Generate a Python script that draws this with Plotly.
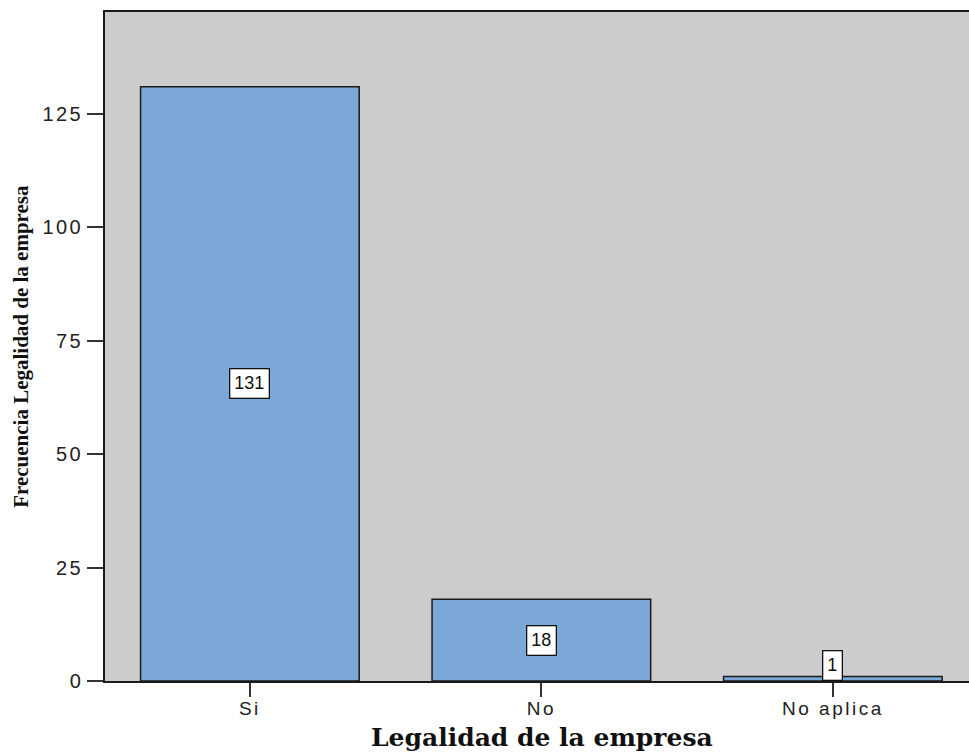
import plotly.graph_objects as go

# Frequencies of company legality status
categories = ["Si", "No", "No aplica"]
counts = [131, 18, 1]
y_ticks = [0, 25, 50, 75, 100, 125]

bar_fill = "#7ba8d6"
edge = "#1a1a1a"
panel = "#cccccc"

fig = go.Figure()
fig.add_trace(go.Bar(
    x=categories,
    y=counts,
    width=0.75,
    marker=dict(color=bar_fill, line=dict(color=edge, width=1.5)),
    hoverinfo="x+y",
))

# value labels in white boxes; short bars get their label resting on the baseline
for cat, v in zip(categories, counts):
    short = v < 8
    fig.add_annotation(
        x=cat, y=0 if short else v / 2,
        yanchor="bottom" if short else "middle",
        text=str(v), showarrow=False,
        font=dict(family="Liberation Sans", size=18, color="#111111"),
        bgcolor="white", bordercolor="#111111", borderwidth=1.3, borderpad=4,
    )

tick_font = dict(family="Liberation Sans", size=20, color="#222222")

fig.update_layout(
    width=969, height=752,
    margin=dict(l=105, r=0, t=12, b=71),
    paper_bgcolor="white",
    plot_bgcolor=panel,
    showlegend=False,
    bargap=0.25,
    xaxis=dict(
        range=[-0.497, 2.467],
        showline=True, linecolor=edge, linewidth=1.5, mirror=True,
        ticks="outside", ticklen=14, tickwidth=1.5, tickcolor="#333333",
        tickfont=dict(family="Liberation Sans", size=19, color="#222222"),
        ticklabelstandoff=-5,
        showgrid=False, zeroline=False,
    ),
    yaxis=dict(
        range=[0, 147.5],
        tickvals=y_ticks,
        showline=True, linecolor=edge, linewidth=1.5,
        ticks="outside", ticklen=16, tickwidth=1.5, tickcolor="#333333",
        tickfont=tick_font,
        showgrid=False, zeroline=False,
    ),
)

fig.add_annotation(
    text="<b>Legalidad de la empresa</b>",
    xref="paper", yref="paper", x=0.506, y=-0.085,
    xanchor="center", yanchor="middle", showarrow=False,
    font=dict(family="DejaVu Serif", size=25, color="#111111"),
)
fig.add_annotation(
    text="<b>Frecuencia Legalidad de la empresa</b>",
    xref="paper", yref="paper", x=-0.098, y=0.5,
    xanchor="center", yanchor="middle", showarrow=False, textangle=-90,
    font=dict(family="Liberation Serif", size=21, color="#111111"),
)

# widen the spacing between characters of the axis tick labels
spacing_js = """
var gd = document.getElementById('{plot_id}');
function spaceTicks() {
  gd.querySelectorAll('.xtick text, .ytick text').forEach(function (t) {
    t.style.letterSpacing = '2.5px';
  });
}
spaceTicks();
gd.on('plotly_afterplot', spaceTicks);
"""

fig.write_html("out.html", post_script=spacing_js)
